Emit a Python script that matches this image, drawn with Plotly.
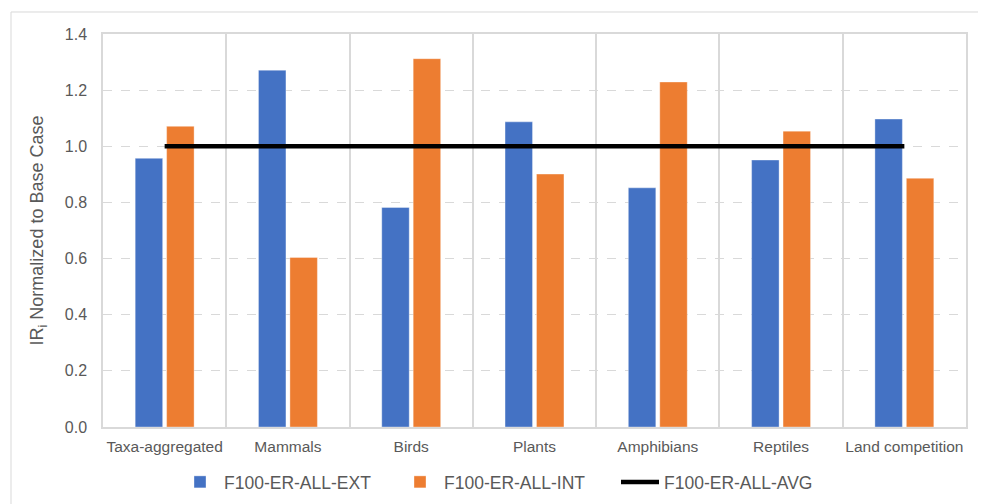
import plotly.graph_objects as go

categories = ["Taxa-aggregated", "Mammals", "Birds", "Plants", "Amphibians", "Reptiles", "Land competition"]
ext_values = [0.957, 1.271, 0.782, 1.087, 0.852, 0.951, 1.097]
int_values = [1.071, 0.604, 1.312, 0.901, 1.229, 1.054, 0.886]
avg_values = [1.0, 1.0, 1.0, 1.0, 1.0, 1.0, 1.0]
y_ticks = [0.0, 0.2, 0.4, 0.6, 0.8, 1.0, 1.2, 1.4]

FONT = "Liberation Sans, Arial, sans-serif"
GRAY_TEXT = "#595959"
GRID = "#d9d9d9"

W, H = 978, 496  # page body has an 8px margin

fig = go.Figure()
fig.add_trace(go.Bar(
    x=categories, y=ext_values, name="F100-ER-ALL-EXT",
    marker=dict(color="#4472C4", line=dict(color="rgba(255,255,255,0.35)", width=1)),
))
fig.add_trace(go.Bar(
    x=categories, y=int_values, name="F100-ER-ALL-INT",
    marker=dict(color="#ED7D31", line=dict(color="rgba(255,255,255,0.35)", width=1)),
))
fig.add_trace(go.Scatter(
    x=categories, y=avg_values, name="F100-ER-ALL-AVG", mode="lines",
    line=dict(color="black", width=4.5),
))

fig.update_layout(
    width=W, height=H,
    margin=dict(l=95, r=20, t=26, b=77, autoexpand=False),
    paper_bgcolor="white", plot_bgcolor="white",
    barmode="group", bargap=0.49, bargroupgap=0.126,
    font=dict(family=FONT, size=15.5, color=GRAY_TEXT),
    showlegend=True,
    legend=dict(
        orientation="h", xref="container", yref="container",
        x=168 / W, xanchor="left", y=22 / H, yanchor="middle",
        font=dict(family=FONT, size=17.5, color=GRAY_TEXT),
        itemwidth=38, entrywidth=167, entrywidthmode="pixels",
        traceorder="normal",
    ),
    xaxis=dict(
        type="category", tickson="boundaries", tickangle=0,
        showgrid=True, gridcolor=GRID, gridwidth=1.5,
        showline=True, linecolor=GRID, linewidth=1.5, mirror=True,
        ticks="", tickfont=dict(family=FONT, size=15.5, color=GRAY_TEXT),
        ticklabelstandoff=5,
    ),
    yaxis=dict(
        range=[0, 1.4], tickvals=y_ticks, tickformat=".1f",
        showgrid=True, gridcolor=GRID, gridwidth=1.2, griddash="dash",
        showline=True, linecolor=GRID, linewidth=1.5, mirror=True,
        zeroline=False,
        ticks="", tickfont=dict(family=FONT, size=16, color=GRAY_TEXT),
        ticklabelstandoff=11,
        title=dict(text="IR<sub>i</sub> Normalized to Base Case",
                   font=dict(family=FONT, size=18, color=GRAY_TEXT), standoff=16),
    ),
    shapes=[dict(type="rect", xref="paper", yref="paper",
                 x0=-0.1066, x1=1.05, y0=-0.25, y1=1.056,
                 line=dict(color=GRID, width=1), fillcolor="rgba(0,0,0,0)", layer="below")],
)

fig.write_html("out.html")
